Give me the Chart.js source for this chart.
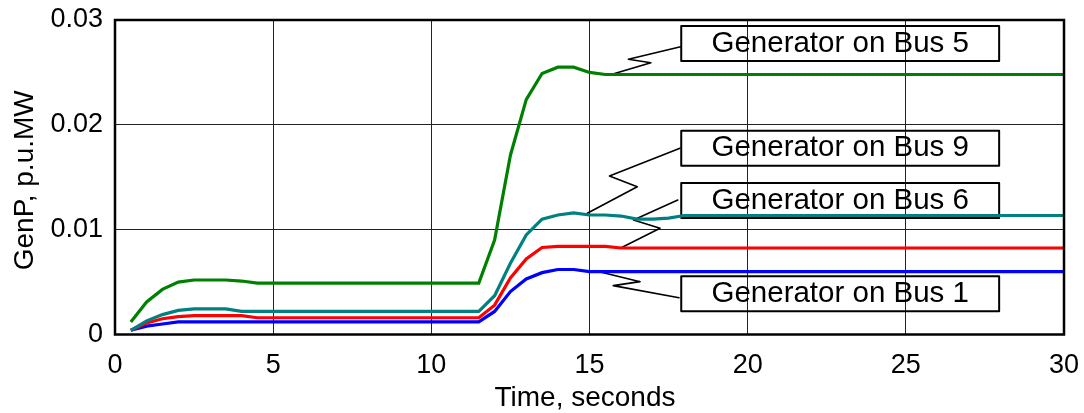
<!DOCTYPE html>
<html lang="en">
<head>
    <meta charset="UTF-8">
    <title>GenP</title>
    <script src="https://cdn.jsdelivr.net/npm/chart.js"></script>
    <style>
        body {
            margin: 0;
            padding: 0;
            background: white;
        }
        #wrap {
            width: 1084px;
            height: 413px;
        }
    </style>
</head>
<body>
    <div id="wrap">
        <canvas id="genChart" width="1084" height="413"></canvas>
    </div>

    <script>
        // Data (time in seconds, power in p.u.MW)
        const times = [0.5, 1, 1.5, 2, 2.5, 3, 3.5, 4, 4.5, 11.5, 12, 12.5, 13, 13.5, 14, 14.5, 15, 15.5, 16, 16.5, 17, 17.5, 18, 30];
        const bus5 = [0.0012, 0.0031, 0.0043, 0.0050, 0.0052, 0.0052, 0.0052, 0.0051, 0.0049, 0.0049, 0.0090, 0.0171, 0.0224, 0.0249, 0.0255, 0.0255, 0.0250, 0.0248, 0.0248, 0.0248, 0.0248, 0.0248, 0.0248, 0.0248];
        const bus9 = [0.0004, 0.0013, 0.0019, 0.0023, 0.00245, 0.00245, 0.00245, 0.0022, 0.0022, 0.0022, 0.0037, 0.0068, 0.0095, 0.0110, 0.0114, 0.0116, 0.0114, 0.0114, 0.0113, 0.0110, 0.0110, 0.0111, 0.01135, 0.01135];
        const bus6 = [0.0004, 0.0011, 0.0015, 0.0017, 0.0018, 0.0018, 0.0018, 0.0018, 0.0016, 0.0016, 0.0028, 0.0054, 0.0072, 0.0083, 0.0084, 0.0084, 0.0084, 0.0084, 0.00825, 0.00825, 0.00825, 0.00825, 0.00825, 0.00825];
        const bus1 = [0.0004, 0.0008, 0.0010, 0.0012, 0.0012, 0.0012, 0.0012, 0.0012, 0.0012, 0.0012, 0.0022, 0.0041, 0.0053, 0.0059, 0.0062, 0.0062, 0.0060, 0.0060, 0.0060, 0.0060, 0.0060, 0.0060, 0.0060, 0.0060];

        const labelTexts = ['Generator on Bus 5', 'Generator on Bus 9', 'Generator on Bus 6', 'Generator on Bus 1'];
        const xTitle = 'Time, seconds';
        const yTitle = 'GenP, p.u.MW';

        const FONT = '"Liberation Sans", Arial, sans-serif';

        // label boxes + zigzag leaders, in data units (time, value)
        const callouts = [
            { box: [17.9, 27.95, 0.02776], leader: [[17.88, 0.02745], [16.23, 0.02625], [16.94, 0.02593], [15.74, 0.02485]] },
            { box: [17.9, 27.95, 0.01776], leader: [[17.86, 0.01776], [15.63, 0.01512], [16.51, 0.0141], [14.93, 0.01156]] },
            { box: [17.9, 27.95, 0.01278], leader: [[17.79, 0.01283], [16.39, 0.01092], [17.23, 0.01013], [15.97, 0.00822]] },
            { box: [17.9, 27.95, 0.00388], leader: [[17.83, 0.00351], [15.75, 0.00466], [16.6, 0.00504], [15.18, 0.00609]] }
        ];

        const pts = arr => times.map((t, i) => ({ x: t, y: arr[i] }));

        const calloutPlugin = {
            id: 'callouts',
            beforeDatasetsDraw(chart) {
                const ctx = chart.ctx;
                const xs = chart.scales.x, ys = chart.scales.y;
                ctx.save();
                ctx.strokeStyle = '#000';
                ctx.lineJoin = 'round';
                ctx.lineCap = 'round';
                callouts.forEach((c, i) => {
                    // leader
                    ctx.lineWidth = 1.6;
                    ctx.beginPath();
                    c.leader.forEach((p, j) => {
                        const px = xs.getPixelForValue(p[0]);
                        const py = ys.getPixelForValue(p[1]);
                        if (j === 0) ctx.moveTo(px, py); else ctx.lineTo(px, py);
                    });
                    ctx.stroke();
                    // box
                    const x0 = xs.getPixelForValue(c.box[0]);
                    const x1 = xs.getPixelForValue(c.box[1]);
                    const cy = ys.getPixelForValue(c.box[2]);
                    ctx.lineWidth = 2;
                    ctx.strokeRect(x0, cy - 17.5, x1 - x0, 35);
                    ctx.fillStyle = '#000';
                    ctx.font = '29.5px ' + FONT;
                    ctx.textAlign = 'center';
                    ctx.textBaseline = 'middle';
                    ctx.fillText(labelTexts[i], (x0 + x1) / 2, cy);
                });
                ctx.restore();
            },
            afterDraw(chart) {
                const ctx = chart.ctx;
                const a = chart.chartArea;
                ctx.save();
                ctx.strokeStyle = '#000';
                ctx.lineWidth = 2.5;
                ctx.strokeRect(a.left, a.top, a.right - a.left, a.bottom - a.top);
                ctx.fillStyle = '#000';
                ctx.font = '28px ' + FONT;
                ctx.textAlign = 'center';
                ctx.textBaseline = 'alphabetic';
                ctx.fillText(xTitle, 585, 406);
                ctx.translate(33, (a.top + a.bottom) / 2 + 3);
                ctx.rotate(-Math.PI / 2);
                ctx.fillText(yTitle, 0, 0);
                ctx.restore();
            }
        };

        new Chart(document.getElementById('genChart'), {
            type: 'line',
            data: {
                datasets: [
                    { label: labelTexts[1], data: pts(bus9), borderColor: '#008080' },
                    { label: labelTexts[2], data: pts(bus6), borderColor: '#ff0000' },
                    { label: labelTexts[3], data: pts(bus1), borderColor: '#0000ff' },
                    { label: labelTexts[0], data: pts(bus5), borderColor: '#008000' }
                ]
            },
            options: {
                responsive: false,
                animation: false,
                layout: { padding: { top: 20, right: 20, left: 0, bottom: 0 } },
                elements: {
                    line: { borderWidth: 3.2, tension: 0, fill: false },
                    point: { radius: 0 }
                },
                plugins: {
                    legend: { display: false },
                    tooltip: { enabled: false }
                },
                scales: {
                    x: {
                        type: 'linear',
                        min: 0,
                        max: 30,
                        afterFit: s => {
                            s.height = 78.5;
                            s.paddingLeft = 0;
                            s.paddingRight = 0;
                        },
                        ticks: {
                            stepSize: 5,
                            padding: 15,
                            color: '#000',
                            font: { family: FONT, size: 27 }
                        },
                        grid: { color: '#222', lineWidth: 1, drawTicks: false },
                        border: { display: false }
                    },
                    y: {
                        min: 0,
                        max: 0.03,
                        afterFit: s => {
                            s.width = 115;
                            s.paddingTop = 0;
                            s.paddingBottom = 0;
                        },
                        ticks: {
                            stepSize: 0.01,
                            padding: 12,
                            color: '#000',
                            font: { family: FONT, size: 27 },
                            callback: v => v === 0 ? '0' : v.toFixed(2)
                        },
                        grid: { color: '#222', lineWidth: 1, drawTicks: false },
                        border: { display: false }
                    }
                }
            },
            plugins: [calloutPlugin]
        });
    </script>
</body>
</html>
